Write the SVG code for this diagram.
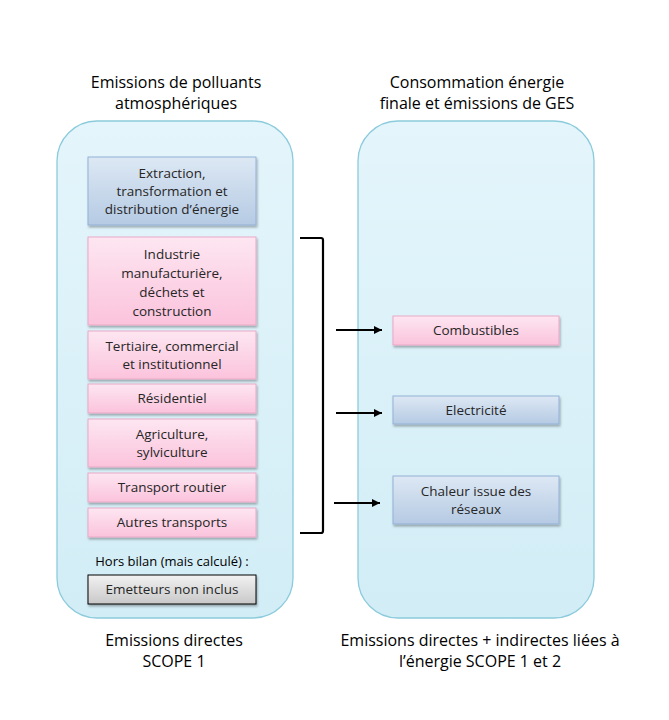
<svg xmlns="http://www.w3.org/2000/svg" width="669" height="720" viewBox="0 0 669 720">
<defs>
<linearGradient id="gCont" x1="0" y1="0" x2="0" y2="1"><stop offset="0" stop-color="#e4f5fb"/><stop offset="1" stop-color="#d2edf6"/></linearGradient>
<linearGradient id="gBlue" x1="0" y1="0" x2="0" y2="1"><stop offset="0" stop-color="#dde8f4"/><stop offset="1" stop-color="#b5cae3"/></linearGradient>
<linearGradient id="gPink" x1="0" y1="0" x2="0" y2="1"><stop offset="0" stop-color="#fde6f1"/><stop offset="1" stop-color="#fbc3dc"/></linearGradient>
<linearGradient id="gGrey" x1="0" y1="0" x2="0" y2="1"><stop offset="0" stop-color="#f2f2f2"/><stop offset="1" stop-color="#c8c8c8"/></linearGradient>
<filter id="sh" x="-10%" y="-20%" width="120%" height="150%"><feDropShadow dx="1" dy="2" stdDeviation="1.2" flood-color="#000" flood-opacity="0.3"/></filter>
<marker id="arrow" viewBox="0 0 10 10" refX="10" refY="5" markerWidth="9" markerHeight="8" orient="auto" markerUnits="userSpaceOnUse"><path d="M0,0 L10,5 L0,10 z" fill="#000"/></marker>
</defs>
<style>
text{font-family:"Open Sans","Liberation Sans",sans-serif;fill:#262626;text-anchor:middle}
.t{font-size:16px;fill:#000}
.b{font-size:13.5px}
.cont{fill:url(#gCont);stroke:#8ccbdc;stroke-width:1.3}
.blue{fill:url(#gBlue);stroke:#93b1d6;stroke-width:1;filter:url(#sh)}
.pink{fill:url(#gPink);stroke:#e9a9c6;stroke-width:1;filter:url(#sh)}
.grey{fill:url(#gGrey);stroke:#000;stroke-width:1;filter:url(#sh)}
.con{fill:none;stroke:#000;stroke-width:2.2}
</style>
<rect width="669" height="720" fill="#fff"/>
<g id="titles">
<text class="t" x="176" y="88">Emissions de polluants</text>
<text class="t" x="176" y="109">atmosphériques</text>
<text class="t" x="477" y="88">Consommation énergie</text>
<text class="t" x="477" y="109">finale et émissions de GES</text>
<text class="t" x="174" y="646">Emissions directes</text>
<text class="t" x="174" y="667">SCOPE 1</text>
<text class="t" x="480" y="646">Emissions directes + indirectes liées à</text>
<text class="t" x="480" y="667">l’énergie SCOPE 1 et 2</text>
</g>
<g id="left-container"><rect class="cont" x="57" y="121" width="236" height="497" rx="40"/></g>
<g id="right-container"><rect class="cont" x="358" y="121" width="236" height="497" rx="40"/></g>
<g id="extraction"><rect class="blue" x="88" y="157" width="168" height="68"/>
<text class="b" x="172" y="178">Extraction,</text><text class="b" x="172" y="196">transformation et</text><text class="b" x="172" y="214">distribution d’énergie</text></g>
<g id="industrie"><rect class="pink" x="88" y="237" width="168" height="88"/>
<text class="b" x="172" y="259">Industrie</text><text class="b" x="172" y="278">manufacturière,</text><text class="b" x="172" y="297">déchets et</text><text class="b" x="172" y="316">construction</text></g>
<g id="tertiaire"><rect class="pink" x="88" y="331" width="168" height="48"/>
<text class="b" x="172" y="351">Tertiaire, commercial</text><text class="b" x="172" y="369">et institutionnel</text></g>
<g id="residentiel"><rect class="pink" x="88" y="384" width="168" height="29"/>
<text class="b" x="172" y="403">Résidentiel</text></g>
<g id="agriculture"><rect class="pink" x="88" y="419" width="168" height="48"/>
<text class="b" x="172" y="439">Agriculture,</text><text class="b" x="172" y="457">sylviculture</text></g>
<g id="transport-routier"><rect class="pink" x="88" y="473" width="168" height="29"/>
<text class="b" x="172" y="492">Transport routier</text></g>
<g id="autres-transports"><rect class="pink" x="88" y="508" width="168" height="29"/>
<text class="b" x="172" y="527">Autres transports</text></g>
<g id="hors-bilan"><text class="b" x="172" y="566" style="fill:#000;font-size:13px">Hors bilan (mais calculé) :</text></g>
<g id="emetteurs"><rect class="grey" x="88" y="575" width="168" height="29"/>
<text class="b" x="172" y="594">Emetteurs non inclus</text></g>
<g id="combustibles"><rect class="pink" x="393" y="316" width="166" height="29"/>
<text class="b" x="476" y="335">Combustibles</text></g>
<g id="electricite"><rect class="blue" x="393" y="396" width="166" height="28"/>
<text class="b" x="476" y="415">Electricité</text></g>
<g id="chaleur"><rect class="blue" x="393" y="476" width="166" height="48"/>
<text class="b" x="476" y="496">Chaleur issue des</text><text class="b" x="476" y="514">réseaux</text></g>
<g id="connectors">
<path class="con" d="M300,238 L321,238 Q323,238 323,240 L323,531 Q323,533 321,533 L300,533"/>
<line class="con" x1="336" y1="330" x2="382" y2="330" marker-end="url(#arrow)"/>
<line class="con" x1="336" y1="413" x2="382" y2="413" marker-end="url(#arrow)"/>
<line class="con" x1="334" y1="503" x2="380" y2="503" marker-end="url(#arrow)"/>
</g>
</svg>
